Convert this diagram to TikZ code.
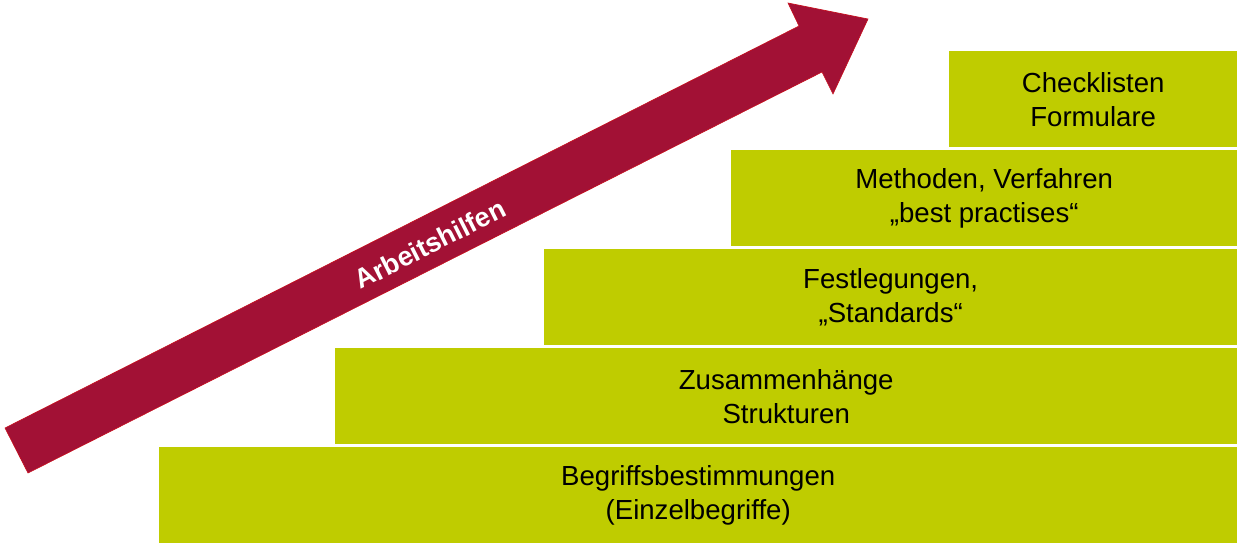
\documentclass[tikz,border=0pt]{standalone}
\usepackage{fontspec}
\setmainfont{Liberation Sans}
\usetikzlibrary{positioning}
\definecolor{StepLime}{RGB}{191, 204, 0}
\definecolor{ArrowWine}{RGB}{162, 17, 53}
\definecolor{ArrowEdge}{RGB}{200, 16, 30}

\begin{document}
\begin{tikzpicture}[x=1pt, y=-1pt,
    stepbox/.style={fill=StepLime, anchor=north west, inner sep=0pt, minimum height=96pt,
        align=center, font=\fontsize{27.6}{34}\selectfont, text=black}]
    \useasboundingbox (0,0) rectangle (1247,549);

    % Staircase of levels, bottom to top
    \node[stepbox, minimum width=1078pt] (begriffe) at (159,447) {Begriffsbestimmungen\\(Einzelbegriffe)};
    \node[stepbox, minimum width=902pt] (zusammen) at (335,348) {Zusammenhänge\\Strukturen};
    \node[stepbox, minimum width=693pt] (festleg) at (544,249) {Festlegungen,\\„Standards“};
    \node[stepbox, minimum width=506pt] (methoden) at (731,150) {Methoden, Verfahren\\„best practises“};
    \node[stepbox, minimum width=288pt] (checkl) at (949,51) {Checklisten\\Formulare};

    % Rising block arrow
    \filldraw[fill=ArrowWine, draw=ArrowEdge, line width=0.6pt, line join=miter]
        (5,428) -- (799,26) -- (788,3) -- (868,19) -- (833,94) -- (822,72) -- (28,473) -- cycle;
    \node[rotate=26.85, font=\fontsize{27}{30}\selectfont\bfseries, text=white] (hilfen) at (430,244) {Arbeitshilfen};
\end{tikzpicture}
\end{document}
